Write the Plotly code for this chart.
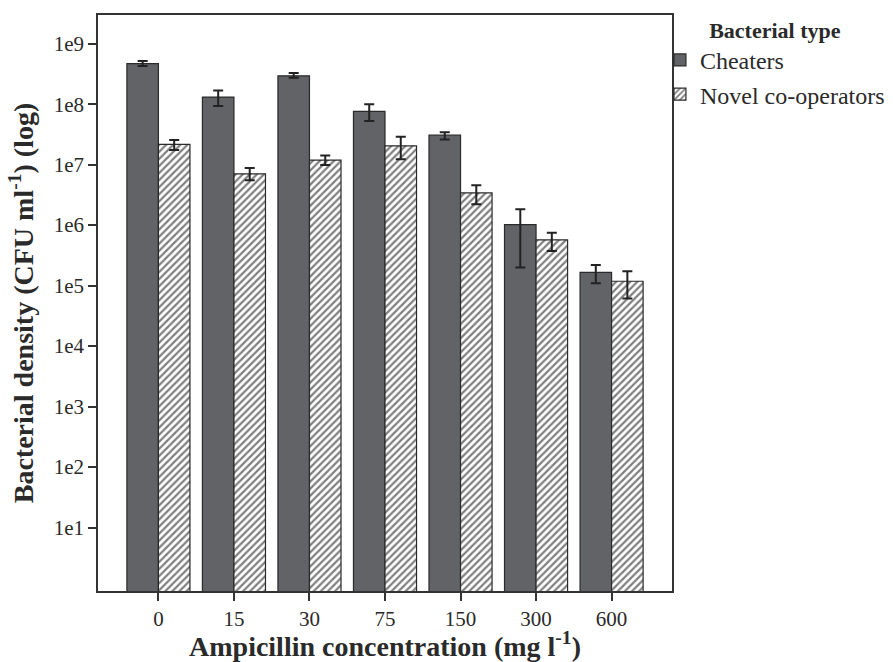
import plotly.graph_objects as go

concentrations = ["0", "15", "30", "75", "150", "300", "600"]

cheaters = [4.7e8, 1.31e8, 2.95e8, 7.6e7, 3.08e7, 1.02e6, 1.66e5]
cheaters_hi = [5.17e8, 1.69e8, 3.27e8, 1.0e8, 3.45e7, 1.83e6, 2.19e5]
cheaters_lo = [4.27e8, 9.3e7, 2.73e8, 5.25e7, 2.61e7, 2.0e5, 1.09e5]

novel = [2.16e7, 7.05e6, 1.19e7, 2.05e7, 3.41e6, 5.7e5, 1.18e5]
novel_hi = [2.57e7, 8.85e6, 1.42e7, 2.89e7, 4.57e6, 7.5e5, 1.73e5]
novel_lo = [1.74e7, 5.5e6, 9.9e6, 1.23e7, 2.22e6, 3.74e5, 6.1e4]

y_tickvals = [1e1, 1e2, 1e3, 1e4, 1e5, 1e6, 1e7, 1e8, 1e9]
y_ticktext = ["1e1", "1e2", "1e3", "1e4", "1e5", "1e6", "1e7", "1e8", "1e9"]

FONT = "'Liberation Serif', 'Times New Roman', serif"
TXT = "#2a2a2a"

def err(vals, hi, lo):
    return dict(type="data", symmetric=False,
                array=[h - v for v, h in zip(vals, hi)],
                arrayminus=[v - l for v, l in zip(vals, lo)],
                color="#222222", thickness=2, width=5)

fig = go.Figure()
fig.add_trace(go.Bar(
    x=concentrations, y=cheaters, name="Cheaters",
    marker=dict(color="#626366", line=dict(color="#2a2a2a", width=1.2)),
    error_y=err(cheaters, cheaters_hi, cheaters_lo),
))
fig.add_trace(go.Bar(
    x=concentrations, y=novel, name="Novel co-operators",
    marker=dict(color="white", line=dict(color="#2a2a2a", width=1.2),
                pattern=dict(shape="/", fgcolor="#000000", bgcolor="white",
                             size=5, solidity=0.45)),
    error_y=err(novel, novel_hi, novel_lo),
))

fig.update_layout(
    width=893, height=662,
    margin=dict(l=98, r=221, t=15, b=71, autoexpand=False),
    paper_bgcolor="white", plot_bgcolor="white",
    barmode="group", bargap=0.165, bargroupgap=0,
    font=dict(family=FONT, color=TXT, size=20),
    legend=dict(
        title=dict(text="<b>Bacterial type</b>", side="top center",
                   font=dict(family=FONT, size=22, color=TXT)),
        font=dict(family=FONT, size=24, color=TXT),
        x=0.979, xanchor="left", y=1.01, yanchor="top",
        bgcolor="rgba(0,0,0,0)", tracegroupgap=0,
    ),
    xaxis=dict(
        type="category", range=[-0.8, 6.8],
        showline=True, linecolor="#333333", linewidth=1.5, mirror=True,
        ticks="outside", ticklen=8, tickwidth=1.5, tickcolor="#333333",
        tickfont=dict(family=FONT, size=21, color=TXT),
        showgrid=False, zeroline=False,
        title=dict(text="<b>Ampicillin concentration (mg l<sup>-1</sup>)</b>",
                   font=dict(family=FONT, size=28, color=TXT), standoff=16),
    ),
    yaxis=dict(
        type="log", range=[-0.05, 9.475],
        tickvals=y_tickvals, ticktext=y_ticktext,
        showline=True, linecolor="#333333", linewidth=1.5, mirror=True,
        ticks="outside", ticklen=8, tickwidth=1.5, tickcolor="#333333",
        tickfont=dict(family=FONT, size=21, color=TXT),
        showgrid=False, zeroline=False,
        title=dict(text="<b>Bacterial density (CFU ml<sup>-1</sup>) (log)</b>",
                   font=dict(family=FONT, size=28, color=TXT), standoff=12),
    ),
)

fig.write_html("out.html")
